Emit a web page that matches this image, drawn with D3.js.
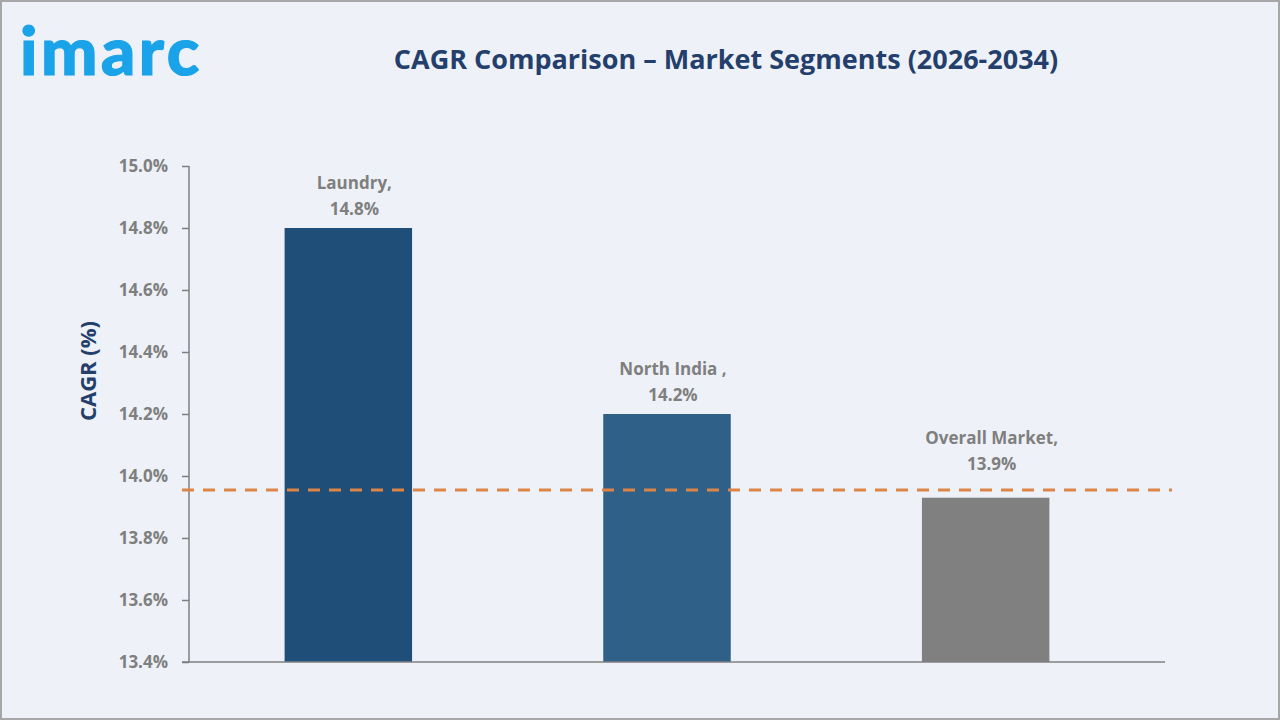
<!DOCTYPE html>
<html lang="en">
<head>
    <meta charset="UTF-8">
    <title>CAGR Comparison</title>
    <style>
        html, body { margin: 0; padding: 0; background: #eef2f8; }
        svg { display: block; }
    </style>
</head>
<body>
<script type='text/javascript' src='https://d3js.org/d3.v7.min.js'></script>
<script>
    // chart data
    const segments = ["Laundry,", "North India ,", "Overall Market,"];
    const cagrValues = [14.8, 14.2, 13.93];
    const valueLabels = ["14.8%", "14.2%", "13.9%"];
    const barColors = ["#1f4e79", "#2e6088", "#808080"];
    const yTicks = [13.4, 13.6, 13.8, 14.0, 14.2, 14.4, 14.6, 14.8, 15.0];
    const referenceLine = 13.955;

    const width = 1280;
    const height = 720;

    const svg = d3.select("body")
        .append("svg")
        .attr("width", width)
        .attr("height", height);

    // background + frame
    svg.append("rect")
        .attr("x", 1).attr("y", 1)
        .attr("width", width - 2).attr("height", height - 2)
        .attr("fill", "#eef2f8")
        .attr("stroke", "#a6a6a6")
        .attr("stroke-width", 2);

    // logo
    svg.append("text")
        .attr("x", 20)
        .attr("y", 75)
        .attr("font-family", "Lato")
        .attr("font-weight", 900)
        .attr("font-size", 67)
        .attr("letter-spacing", 3.5)
        .attr("fill", "#1aa3e8")
        .attr("stroke", "#1aa3e8")
        .attr("stroke-width", 1.2)
        .text("imarc");

    // title
    svg.append("text")
        .attr("x", 726)
        .attr("y", 69)
        .attr("text-anchor", "middle")
        .attr("font-family", "Open Sans")
        .attr("font-weight", 700)
        .attr("font-size", 27)
        .attr("fill", "#243f6b")
        .text("CAGR Comparison \u2013 Market Segments (2026-2034)");

    const x = d3.scaleBand()
        .domain(segments)
        .range([189, 1145])
        .paddingInner(0.6)
        .paddingOuter(0.3);

    const y = d3.scaleLinear()
        .domain([13.4, 15.0])
        .range([662, 166]);

    // y axis
    const yAxis = svg.append("g")
        .attr("transform", "translate(189,0)")
        .call(d3.axisLeft(y)
            .tickValues(yTicks)
            .tickSize(7)
            .tickPadding(14)
            .tickFormat(d => d.toFixed(1) + "%"));
    yAxis.select(".domain").attr("stroke", "#7f7f7f").attr("stroke-width", 1.5)
        .attr("d", "M0," + y(15.0) + "V" + y(13.4));
    yAxis.selectAll(".tick line").attr("stroke", "#7f7f7f").attr("stroke-width", 1.5);
    yAxis.selectAll(".tick text")
        .attr("font-family", "Open Sans")
        .attr("font-weight", 700)
        .attr("font-size", 17)
        .attr("fill", "#7f7f7f");

    // bars
    svg.selectAll("rect.bar")
        .data(segments)
        .enter()
        .append("rect")
        .attr("class", "bar")
        .attr("x", d => x(d))
        .attr("y", (d, i) => y(cagrValues[i]))
        .attr("width", x.bandwidth())
        .attr("height", (d, i) => y(13.4) - y(cagrValues[i]))
        .attr("fill", (d, i) => barColors[i]);

    // x axis baseline
    svg.append("line")
        .attr("x1", 182).attr("x2", 1165)
        .attr("y1", y(13.4)).attr("y2", y(13.4))
        .attr("stroke", "#7f7f7f")
        .attr("stroke-width", 1.5);

    // dashed reference line
    svg.append("line")
        .attr("x1", 182).attr("x2", 1172)
        .attr("y1", y(referenceLine)).attr("y2", y(referenceLine))
        .attr("stroke", "#dd8447")
        .attr("stroke-width", 3)
        .attr("stroke-dasharray", "12,9");

    // bar labels, lifted above the reference line when they would hit it
    const labels = svg.selectAll("g.lbl")
        .data(segments)
        .enter()
        .append("g")
        .attr("class", "lbl")
        .attr("transform", (d, i) => {
            let top = y(cagrValues[i]);
            if (top + 2 > y(referenceLine)) top = y(referenceLine) - 7;
            return "translate(" + (x(d) + x.bandwidth() / 2 + 6) + "," + (top - 13) + ")";
        });
    labels.append("text")
        .attr("y", -26)
        .text(d => d);
    labels.append("text")
        .attr("y", 0)
        .text((d, i) => valueLabels[i]);
    labels.selectAll("text")
        .attr("text-anchor", "middle")
        .attr("font-family", "Open Sans")
        .attr("font-weight", 700)
        .attr("font-size", 17)
        .attr("fill", "#7f7f7f");

    // y axis title
    svg.append("text")
        .attr("transform", "translate(96," + 371 + ") rotate(-90)")
        .attr("text-anchor", "middle")
        .attr("font-family", "Open Sans")
        .attr("font-weight", 700)
        .attr("font-size", 22)
        .attr("fill", "#243f6b")
        .text("CAGR (%)");
</script>
</body>
</html>
